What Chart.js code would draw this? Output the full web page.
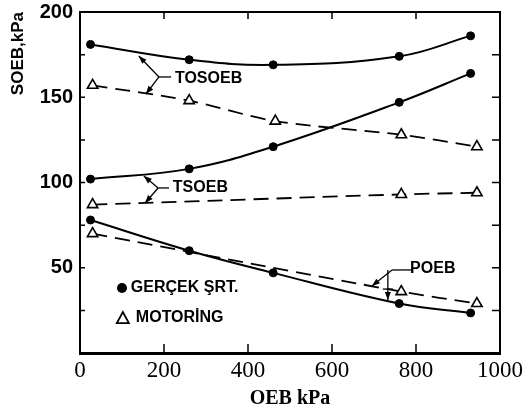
<!DOCTYPE html>
<html><head><meta charset="utf-8">
<script src="https://cdn.jsdelivr.net/npm/chart.js@4.4.1/dist/chart.umd.min.js"></script>
<style>html,body{margin:0;padding:0;background:#fff}#wrap{width:531px;height:414px}</style>
</head><body><div id="wrap"><canvas id="c" width="531" height="414"></canvas></div>
<script>
// ---- data ----
const xReal = [25, 260, 460, 760, 930];
const xMot5 = [30, 260, 465, 765, 945];
const xMot3 = [30, 765, 945];
const tosoebReal = [181, 172, 169, 174, 186];
const tosoebMot = [157, 148, 136, 128, 121];
const tsoebReal = [102, 108, 121, 147, 164];
const tsoebMot = [87, 93, 94];
const poebReal = [78, 60, 47, 29, 23.5];
const poebMot = [70, 36, 29];
const xTickValues = [0, 200, 400, 600, 800, 1000];
const yTickLabels = [50, 100, 150, 200];
const seriesNames = ['TOSOEB', 'TSOEB', 'POEB'];
const legendLabels = ['GERÇEK ŞRT.', 'MOTORİNG'];

const pts = (xs, ys) => xs.map((x, i) => ({x: x, y: ys[i]}));
const SANS = '"Liberation Sans", Arial, sans-serif';
const SERIF = '"Liberation Serif", "Times New Roman", serif';

function realDs(label, xs, ys) {
  return {label, data: pts(xs, ys), borderColor: '#000', backgroundColor: '#000',
    borderWidth: 2, tension: 0.4, pointStyle: 'circle', pointRadius: 4,
    pointBackgroundColor: '#000', pointBorderColor: '#000', pointBorderWidth: 1};
}
function motDs(label, xs, ys) {
  return {label, data: pts(xs, ys), borderColor: '#000', backgroundColor: '#fff',
    borderWidth: 1.8, borderDash: [15, 8], tension: 0.3, pointStyle: 'triangle', pointRadius: 6,
    pointBackgroundColor: '#fff', pointBorderColor: '#000', pointBorderWidth: 1.6};
}

const overlay = {
  id: 'overlay',
  afterDatasetsDraw(chart) {
    const ctx = chart.ctx, a = chart.chartArea;
    const xs = chart.scales.x, ys = chart.scales.y;
    const P = (x, y) => [xs.getPixelForValue(x), ys.getPixelForValue(y)];
    ctx.save();
    ctx.strokeStyle = '#000'; ctx.fillStyle = '#000';
    // frame
    ctx.lineWidth = 2;
    ctx.beginPath();
    ctx.moveTo(a.left, a.top); ctx.lineTo(a.right, a.top); ctx.lineTo(a.right, a.bottom);
    ctx.stroke();
    // inward ticks
    ctx.lineWidth = 1.5;
    for (let v = 25; v < 200; v += 25) {
      const y = ys.getPixelForValue(v);
      ctx.beginPath(); ctx.moveTo(a.left, y); ctx.lineTo(a.left + 5, y);
      ctx.moveTo(a.right, y); ctx.lineTo(a.right - 8, y); ctx.stroke();
    }
    for (let v = 200; v < 1000; v += 200) {
      const x = xs.getPixelForValue(v);
      ctx.beginPath(); ctx.moveTo(x, a.bottom); ctx.lineTo(x, a.bottom - 9);
      ctx.moveTo(x, a.top); ctx.lineTo(x, a.top + 7); ctx.stroke();
    }
    // annotations
    function line(p, q) { ctx.beginPath(); ctx.moveTo(p[0], p[1]); ctx.lineTo(q[0], q[1]); ctx.stroke(); }
    function arrow(p, q) {
      line(p, q);
      const ang = Math.atan2(q[1] - p[1], q[0] - p[0]);
      const L = 8, W = 3;
      ctx.beginPath();
      ctx.moveTo(q[0], q[1]);
      ctx.lineTo(q[0] - L * Math.cos(ang) + W * Math.sin(ang), q[1] - L * Math.sin(ang) - W * Math.cos(ang));
      ctx.lineTo(q[0] - L * Math.cos(ang) - W * Math.sin(ang), q[1] - L * Math.sin(ang) + W * Math.cos(ang));
      ctx.closePath(); ctx.fill();
    }
    ctx.lineWidth = 1.3;
    ctx.font = 'bold 16px ' + SANS;
    ctx.textBaseline = 'middle'; ctx.textAlign = 'left';
    // TOSOEB
    let v = P(188, 161.9);
    line(v, P(217, 161.9));
    arrow(v, P(140, 174.2));
    arrow(v, P(157, 151.9));
    let t = P(226, 161.0); ctx.fillText(seriesNames[0], t[0], t[1]);
    // TSOEB
    v = P(186, 96.8);
    line(v, P(212, 96.8));
    arrow(v, P(152, 103.8));
    arrow(v, P(155, 88));
    t = P(221, 96.8); ctx.fillText(seriesNames[1], t[0], t[1]);
    // POEB
    line(P(743, 48.7), P(790, 48.7));
    arrow(P(743, 48.7), P(695, 39.3));
    arrow(P(733, 48.7), P(733, 31.1));
    line(P(721, 37.5), P(745, 37.5));
    t = P(786, 49.5); ctx.fillText(seriesNames[2], t[0], t[1]);
    // legend
    let c = P(100, 38.1);
    ctx.beginPath(); ctx.arc(c[0], c[1], 5, 0, Math.PI * 2); ctx.fill();
    t = P(121, 38.4); ctx.fillText(legendLabels[0], t[0], t[1]);
    c = P(102, 20.5);
    ctx.lineWidth = 1.8;
    ctx.beginPath(); ctx.moveTo(c[0], c[1] - 6); ctx.lineTo(c[0] + 6, c[1] + 5); ctx.lineTo(c[0] - 6, c[1] + 5); ctx.closePath(); ctx.stroke();
    t = P(133, 20.5); ctx.fillText(legendLabels[1], t[0], t[1]);
    ctx.restore();
  }
};

new Chart(document.getElementById('c'), {
  type: 'line',
  data: {
    datasets: [
      realDs('TOSOEB gerçek', xReal, tosoebReal),
      motDs('TOSOEB motoring', xMot5, tosoebMot),
      realDs('TSOEB gerçek', xReal, tsoebReal),
      motDs('TSOEB motoring', xMot3, tsoebMot),
      realDs('POEB gerçek', xReal, poebReal),
      motDs('POEB motoring', xMot3, poebMot)
    ]
  },
  options: {
    responsive: false, animation: false, devicePixelRatio: 1,
    layout: {padding: {left: 0, right: 31, top: 12, bottom: 0}},
    plugins: {legend: {display: false}, tooltip: {enabled: false}},
    scales: {
      x: {
        type: 'linear', min: 0, max: 1000,
        afterBuildTicks: s => { s.ticks = xTickValues.map(v => ({value: v})); },
        afterFit: s => { s.height = 61; s.paddingLeft = 0; s.paddingRight = 0; },
        grid: {display: false, drawTicks: false},
        border: {display: true, color: '#000', width: 3},
        ticks: {color: '#000', font: {family: SERIF, size: 23}, padding: 4, maxRotation: 0,
          callback: v => String(v)},
        title: {display: true, text: 'OEB kPa', color: '#000',
          font: {family: SERIF, size: 20, weight: 'bold'}, padding: {top: 0, bottom: 3}}
      },
      y: {
        type: 'linear', min: 0, max: 200,
        ticks: {stepSize: 25, color: '#000', font: {family: SANS, size: 20, weight: 'bold'}, padding: 7,
          callback: v => yTickLabels.includes(v) ? String(v) : ''},
        afterFit: s => { s.width = 80; s.paddingTop = 0; s.paddingBottom = 0; },
        grid: {display: false, drawTicks: false},
        border: {display: true, color: '#000', width: 2},
        title: {display: true, text: 'SOEB,kPa', align: 'end', color: '#000',
          font: {family: SANS, size: 17, weight: 'bold'}, padding: {top: 8, bottom: 0}}
      }
    }
  },
  plugins: [overlay]
});
</script>
</body></html>
